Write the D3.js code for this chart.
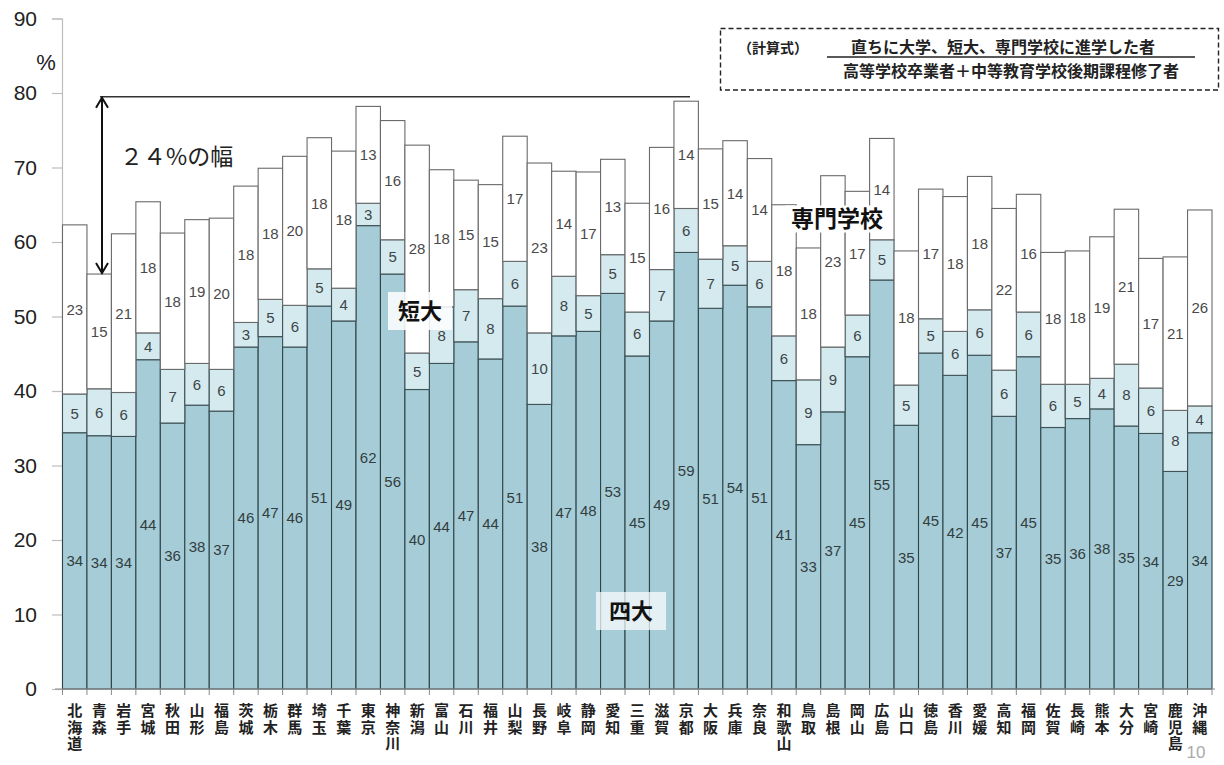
<!DOCTYPE html>
<html lang="ja">
<head>
<meta charset="utf-8">
<script src="https://cdn.jsdelivr.net/npm/d3@7"></script>
<style>
  html, body { margin: 0; padding: 0; background: #fff; }
  svg { display: block; }
  .vlabel { writing-mode: vertical-rl; text-orientation: upright; }
</style>
</head>
<body>
<svg id="chart" width="1224" height="765"></svg>
<script>
// 都道府県別 高校卒業者の進学率（四大・短大・専門学校）
const prefectures = ["北海道","青森","岩手","宮城","秋田","山形","福島","茨城","栃木","群馬",
  "埼玉","千葉","東京","神奈川","新潟","富山","石川","福井","山梨","長野",
  "岐阜","静岡","愛知","三重","滋賀","京都","大阪","兵庫","奈良","和歌山",
  "鳥取","島根","岡山","広島","山口","徳島","香川","愛媛","高知","福岡",
  "佐賀","長崎","熊本","大分","宮崎","鹿児島","沖縄"];

// 四大
const univ = [34.4,34.0,33.9,44.2,35.7,38.1,37.3,45.9,47.3,45.9,
  51.4,49.4,62.2,55.7,40.2,43.7,46.6,44.3,51.4,38.2,
  47.4,48.0,53.1,44.7,49.4,58.6,51.1,54.2,51.3,41.4,
  32.8,37.2,44.6,54.9,35.4,45.1,42.1,44.8,36.6,44.6,
  35.1,36.3,37.6,35.3,34.3,29.2,34.4];

// 短大
const junior = [5.2,6.3,5.9,3.6,7.2,5.6,5.6,3.3,5.0,5.6,
  5.0,4.4,3.0,4.6,4.9,7.6,7.0,8.1,6.0,9.6,
  8.0,4.8,5.2,5.9,6.9,5.9,6.6,5.3,6.1,6.0,
  8.7,8.7,5.6,5.4,5.4,4.6,5.9,6.1,6.2,6.0,
  5.8,4.6,4.1,8.3,6.1,8.2,3.6];

// 専門学校
const vocational = [22.7,15.4,21.3,17.6,18.3,19.3,20.3,18.3,17.6,20.0,
  17.6,18.4,13.0,16.0,27.9,18.4,14.7,15.3,16.8,22.8,
  14.1,16.6,12.8,14.6,16.4,14.4,14.8,14.1,13.8,17.6,
  17.7,23.0,16.6,13.6,18.0,17.4,18.1,17.9,21.7,15.8,
  17.7,17.9,19.0,20.8,17.4,20.6,26.3];

const yTicks = [0,10,20,30,40,50,60,70,80,90];

// 幅の注記（上端の水平線と青森の合計）
const spanTop = 79.5;
const spanLabel = "２４%の幅";

const seriesKeys = ["univ","junior","vocational"];
const seriesNames = {univ: "四大", junior: "短大", vocational: "専門学校"};
const fills = {univ: "#a6cdd7", junior: "#d5eaef", vocational: "#ffffff"};
const strokes = {univ: "#2f4649", junior: "#3f5256", vocational: "#6a6a6a"};

const rows = prefectures.map((p, i) => ({
  pref: p, univ: univ[i], junior: junior[i], vocational: vocational[i]
}));

const svg = d3.select("#chart");
const jp = "'Noto Sans CJK JP', 'Noto Sans', sans-serif";
const num = "'Liberation Sans', Arial, sans-serif";

const x = d3.scaleBand().domain(prefectures).range([62.5, 1212]).padding(0);
const y = d3.scaleLinear().domain([0, 90]).range([689, 18.5]);

// y 軸
const yAxis = d3.axisLeft(y).tickValues(yTicks).tickSize(10).tickPadding(15);
const gy = svg.append("g").attr("transform", "translate(62,0)").call(yAxis);
gy.select(".domain").attr("stroke", "#bdbdbd").attr("stroke-width", 1.2);
gy.selectAll(".tick line").attr("stroke", "#bdbdbd").attr("stroke-width", 1.2);
gy.selectAll(".tick text").attr("font-family", num).attr("font-size", 21).attr("fill", "#222");

svg.append("text").attr("x", 46).attr("y", 70).attr("text-anchor", "middle")
  .attr("font-family", num).attr("font-size", 22).attr("fill", "#222").text("%");

// 積み上げ棒
const stacked = d3.stack().keys(seriesKeys)(rows);

const layers = svg.append("g").selectAll("g").data(stacked).join("g")
  .attr("fill", d => fills[d.key])
  .attr("stroke", d => strokes[d.key])
  .attr("stroke-width", 1.1);

layers.selectAll("rect").data(d => d).join("rect")
  .attr("x", d => x(d.data.pref))
  .attr("width", x.bandwidth())
  .attr("y", d => y(d[1]))
  .attr("height", d => y(d[0]) - y(d[1]));

// データラベル
const labelColor = {univ: "#333d40", junior: "#3c4548", vocational: "#4a4a4a"};
svg.append("g").selectAll("g").data(stacked).join("g")
  .attr("fill", d => labelColor[d.key])
  .each(function(layer) {
    d3.select(this).selectAll("text").data(layer).join("text")
      .attr("x", d => x(d.data.pref) + x.bandwidth() / 2)
      .attr("y", d => (y(d[0]) + y(d[1])) / 2)
      .attr("dy", "0.36em")
      .attr("text-anchor", "middle")
      .attr("font-family", num)
      .attr("font-size", 15)
      .text(d => Math.round(d[1] - d[0]));
  });

// x 軸
svg.append("line").attr("x1", 55).attr("x2", 1215).attr("y1", y(0)).attr("y2", y(0))
  .attr("stroke", "#8a8a8a").attr("stroke-width", 1.2);
const edges = prefectures.map(p => x(p)).concat([x.range()[1]]);
svg.append("g").selectAll("line").data(edges).join("line")
  .attr("x1", d => d).attr("x2", d => d)
  .attr("y1", y(0)).attr("y2", y(0) + 6)
  .attr("stroke", "#8a8a8a").attr("stroke-width", 1);

// 都道府県名（縦書き）
svg.append("g").selectAll("text").data(prefectures).join("text")
  .attr("class", "vlabel")
  .attr("x", d => x(d) + x.bandwidth() / 2)
  .attr("y", 703)
  .attr("font-family", jp).attr("font-weight", "bold")
  .attr("font-size", 15).attr("letter-spacing", 1.5).attr("fill", "#222")
  .text(d => d);

// 注記：最大と最小の幅
const aomori = rows[1].univ + rows[1].junior + rows[1].vocational;
svg.append("line").attr("x1", 100).attr("x2", 690)
  .attr("y1", y(spanTop)).attr("y2", y(spanTop))
  .attr("stroke", "#333").attr("stroke-width", 1.3);
const ax = 102;
const arrow = svg.append("g").attr("stroke", "#111").attr("stroke-width", 2).attr("fill", "none");
arrow.append("line").attr("x1", ax).attr("x2", ax).attr("y1", y(spanTop) + 1).attr("y2", y(aomori) - 1);
arrow.append("path").attr("d", `M${ax - 6},${y(spanTop) + 11} L${ax},${y(spanTop) + 1} L${ax + 6},${y(spanTop) + 11}`);
arrow.append("path").attr("d", `M${ax - 6},${y(aomori) - 11} L${ax},${y(aomori) - 1} L${ax + 6},${y(aomori) - 11}`);

svg.append("text").attr("x", 120).attr("y", 165)
  .attr("font-family", jp).attr("font-size", 23).attr("fill", "#222")
  .text(spanLabel);

// 系列名ラベル
function seriesLabel(text, cx, cy, w, h, bg, size) {
  svg.append("rect").attr("x", cx - w / 2).attr("y", cy - h / 2).attr("width", w).attr("height", h)
    .attr("fill", bg);
  svg.append("text").attr("x", cx).attr("y", cy).attr("dy", "0.36em")
    .attr("text-anchor", "middle").attr("font-family", jp).attr("font-weight", "bold")
    .attr("font-size", size).attr("fill", "#111").text(text);
}
seriesLabel(seriesNames.junior, 420, 311, 64, 38, "rgba(255,255,255,0.85)", 22);
seriesLabel(seriesNames.univ, 631, 611, 70, 38, "rgba(255,255,255,0.7)", 22);
seriesLabel(seriesNames.vocational, 837, 219, 104, 27, "#ffffff", 23);

// 計算式
svg.append("rect").attr("x", 720.5).attr("y", 28.5).attr("width", 498).attr("height", 61.5)
  .attr("fill", "none").attr("stroke", "#222").attr("stroke-width", 1.4)
  .attr("stroke-dasharray", "5,3");
svg.append("text").attr("x", 738).attr("y", 53)
  .attr("font-family", jp).attr("font-weight", "bold").attr("font-size", 14).attr("fill", "#222")
  .text("（計算式）");
svg.append("text").attr("x", 1003).attr("y", 53).attr("text-anchor", "middle")
  .attr("font-family", jp).attr("font-weight", "bold").attr("font-size", 16).attr("fill", "#222")
  .text("直ちに大学、短大、専門学校に進学した者");
svg.append("line").attr("x1", 827).attr("x2", 1195).attr("y1", 57).attr("y2", 57)
  .attr("stroke", "#222").attr("stroke-width", 1.3);
svg.append("text").attr("x", 1011).attr("y", 77).attr("text-anchor", "middle")
  .attr("font-family", jp).attr("font-weight", "bold").attr("font-size", 16).attr("fill", "#222")
  .text("高等学校卒業者＋中等教育学校後期課程修了者");

// ページ番号
svg.append("text").attr("x", 1196).attr("y", 758).attr("text-anchor", "middle")
  .attr("font-family", num).attr("font-size", 17).attr("fill", "#aaa").text("10");
</script>
</body>
</html>
